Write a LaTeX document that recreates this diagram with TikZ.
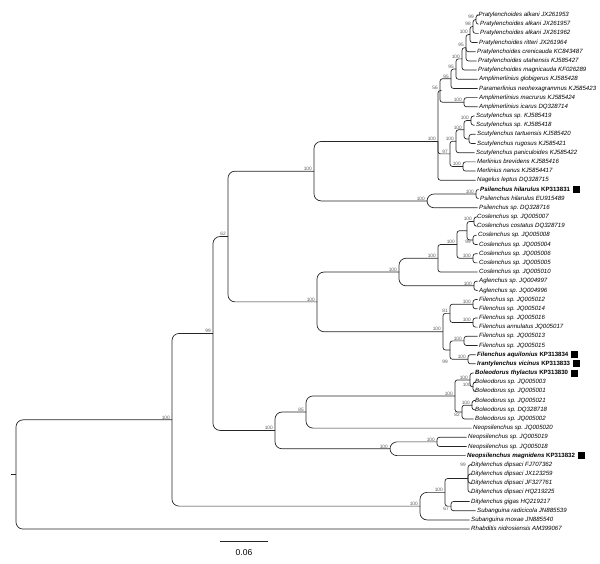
\documentclass[tikz,border=0pt]{standalone}
\usepackage{fontspec}
\setmainfont{Liberation Sans}
\usetikzlibrary{positioning}

\begin{document}
\begin{tikzpicture}[x=1pt, y=-9.18pt,
    tip/.style={anchor=west, inner sep=0pt, text height=4.4pt, text depth=1.2pt, font=\fontsize{6.1}{7}\selectfont},
    boot/.style={inner sep=0.5pt, xshift=-1.5pt, font=\fontsize{4.8}{5}\selectfont, text=black!65},
    br/.style={draw=black!85, line width=0.7pt, rounded corners=2.5pt},
    brl/.style={br, rounded corners=7pt},
    sqbox/.style={fill=black, minimum size=7pt, inner sep=0pt}]
    \useasboundingbox (0,-0.634) rectangle (600,60.695);

    % leaves: label start / name / accession / bold
    \foreach[count=\i] \lx/\gn/\acc/\hl in {
        478.5/Pratylenchoides alkani/JX261953/0, 480/Pratylenchoides alkani/JX261957/0,
        480/Pratylenchoides alkani/JX261962/0, 479/Pratylenchoides ritteri/JX261964/0,
        477/Pratylenchoides crenicauda/KC843487/0, 478/Pratylenchoides utahensis/KJ585427/0,
        478/Pratylenchoides magnicauda/KF026289/0, 479/Amplimerlinius globigerus/KJ585428/0,
        479/Paramerlinius neohexagrammus/KJ585423/0, 479/Amplimerlinius macrurus/KJ585424/0,
        479/Amplimerlinius icarus/DQ328714/0, 476/Scutylenchus sp./KJ585419/0,
        476/Scutylenchus sp./KJ585418/0, 477/Scutylenchus tartuensis/KJ585420/0,
        477/Scutylenchus rugosus/KJ585421/0, 476/Scutylenchus paniculoides/KJ585422/0,
        477/Merlinius brevidens/KJ585416/0, 477/Merlinius nanus/KJ5854417/0,
        477/Nagelus leptus/DQ328715/0, 480/Psilenchus hilarulus/KP313831/1,
        480/Psilenchus hilarulus/EU915489/0, 479/Psilenchus sp./DQ328716/0,
        477/Coslenchus sp./JQ005007/0, 477/Coslenchus costatus/DQ328719/0,
        478/Coslenchus sp./JQ005008/0, 479/Coslenchus sp./JQ005004/0,
        479/Coslenchus sp./JQ005006/0, 479/Coslenchus sp./JQ005005/0,
        479/Coslenchus sp./JQ005010/0, 479/Aglenchus sp./JQ004997/0,
        479/Aglenchus sp./JQ004996/0, 479/Filenchus sp./JQ005012/0,
        479/Filenchus sp./JQ005014/0, 479/Filenchus sp./JQ005016/0,
        479/Filenchus annulatus/JQ005017/0, 479/Filenchus sp./JQ005013/0,
        479/Filenchus sp./JQ005015/0, 477/Filenchus aquilonius/KP313834/1,
        477/Irantylenchus vicinus/KP313833/1, 475/Boleodorus thylactus/KP313830/1,
        475/Boleodorus sp./JQ005003/0, 475/Boleodorus sp./JQ005001/0,
        475/Boleodorus sp./JQ005021/0, 475/Boleodorus sp./DQ328718/0,
        475/Boleodorus sp./JQ005002/0, 473/Neopsilenchus sp./JQ005020/0,
        468/Neopsilenchus sp./JQ005019/0, 468/Neopsilenchus sp./JQ005018/0,
        467/Neopsilenchus magnidens/KP313832/1, 471/Ditylenchus dipsaci/FJ707362/0,
        471/Ditylenchus dipsaci/JX123259/0, 471/Ditylenchus dipsaci/JF327761/0,
        471/Ditylenchus dipsaci/HQ219225/0, 471/Ditylenchus gigas/HQ219217/0,
        477/Subanguina radicicola/JN885539/0, 471/Subanguina moxae/JN885540/0,
        471/Rhabditis nidrosiensis/AM399067/0} {
        \coordinate (t-\i) at (\lx-1.5,\i);
        \ifnum\hl=1
            \node[tip] (n-\i) at (\lx,\i) {\bfseries\itshape\gn\ \upshape\acc};
            \node[sqbox, right=2.5pt of n-\i] (q-\i) {};
        \else
            \node[tip] (n-\i) at (\lx,\i) {\itshape\gn\ \acc};
        \fi
    }

    % inner nodes
    \coordinate (r0) at (11,51.05);
    \coordinate (r) at (16,51.05);
    \coordinate (i) at (172,45.1);
    \coordinate (n99) at (213,35.69);
    \coordinate (n62) at (228,25.13);
    \coordinate (nt) at (314,18.01);
    \coordinate (top) at (438,14.78);
    \coordinate (c56) at (440,9.22);
    \coordinate (p7) at (451,7.945);
    \coordinate (p6) at (456,6.89);
    \coordinate (p5) at (462,5.78);
    \coordinate (p4) at (466,4.5625);
    \coordinate (p3) at (470,3.125);
    \coordinate (p2) at (473,2.25);
    \coordinate (p1) at (476,1.5);
    \coordinate (ap) at (464,10.5);
    \coordinate (c97) at (450,16.125);
    \coordinate (s3) at (456,14.75);
    \coordinate (s2) at (464,13.5);
    \coordinate (s1) at (471,12.5);
    \coordinate (s4) at (469,14.5);
    \coordinate (mer) at (463,17.5);
    \coordinate (psi) at (427,21.25);
    \coordinate (hp) at (476,20.5);
    \coordinate (nf) at (317,32.25);
    \coordinate (ca) at (399,29);
    \coordinate (co) at (438,27.5);
    \coordinate (co2) at (457,26);
    \coordinate (x) at (467,24.5);
    \coordinate (a) at (474,23.5);
    \coordinate (b) at (473,25.5);
    \coordinate (c) at (473,27.5);
    \coordinate (ag) at (474,30.5);
    \coordinate (fc) at (443,35.5);
    \coordinate (f12) at (450,33.5);
    \coordinate (f1) at (473,32.5);
    \coordinate (f2) at (473,34.5);
    \coordinate (f34) at (450,37.5);
    \coordinate (f3) at (464,36.5);
    \coordinate (f4) at (468,38.5);
    \coordinate (n100b) at (275,46.25);
    \coordinate (n85) at (306,44.25);
    \coordinate (bo) at (455,42.5);
    \coordinate (boa) at (470,40.75);
    \coordinate (bq) at (473,41.5);
    \coordinate (bob) at (462,44.25);
    \coordinate (bp) at (472,43.5);
    \coordinate (neo) at (390,48.25);
    \coordinate (np) at (437,47.5);
    \coordinate (d) at (420,54.5);
    \coordinate (d1) at (445,53);
    \coordinate (dd) at (468,51.5);
    \coordinate (dg) at (451,54.5);

    % branches
    \draw[br] (r0) -- (r);
    \foreach \p/\c in {r/i, r/t-57, i/n99, i/d, n99/n62, n99/n100b, n62/nt, n62/nf,
        nt/top, nt/psi, nf/ca, nf/fc, n100b/n85, n100b/neo, d/d1, d/t-56, ca/co, ca/ag,
        n85/bo, n85/t-46, neo/np, neo/t-49, psi/hp, psi/t-22}
        \draw[brl] (\p) |- (\c);
    \foreach \p/\c in {top/c56, top/c97, top/t-19, c56/p7, c56/ap, p7/p6, p7/t-9, p6/p5, p6/t-8,
        p5/p4, p5/t-7, p4/p3, p4/t-5, p4/t-6, p3/p2, p3/t-4, p2/p1, p2/t-3, p1/t-1, p1/t-2,
        ap/t-10, ap/t-11, c97/s3, c97/mer, s3/s2, s3/t-16, s2/s1, s2/s4, s1/t-12, s1/t-13,
        s4/t-14, s4/t-15, mer/t-17, mer/t-18, hp/t-20, hp/t-21,
        co/co2, co/t-29, co2/x, co2/c, x/a, x/b, a/t-23, a/t-24, b/t-25, b/t-26, c/t-27, c/t-28,
        ag/t-30, ag/t-31, fc/f12, fc/f34, f12/f1, f12/f2, f1/t-32, f1/t-33, f2/t-34, f2/t-35,
        f34/f3, f34/f4, f3/t-36, f3/t-37, f4/t-38, f4/t-39,
        bo/boa, bo/bob, boa/t-40, boa/bq, bq/t-41, bq/t-42, bob/bp, bob/t-45, bp/t-43, bp/t-44,
        np/t-47, np/t-48, d1/dd, d1/dg, dd/t-50, dd/t-51, dd/t-52, dd/t-53, dg/t-54, dg/t-55}
        \draw[br] (\p) |- (\c);

    % support values
    \foreach \nd/\bv in {i/100, n99/99, n62/62, nt/100, nf/100, top/100, c56/56, p7/95, p6/95,
        p5/100, p4/95, p3/100, p2/98, p1/99, ap/100, c97/97, s3/100, s2/100, s1/100, mer/100,
        psi/100, hp/100, ca/100, co/100, co2/100, a/100, c/100, ag/100, fc/100, f12/81, f1/100,
        f2/100, f3/100, f4/100, n100b/100, n85/85, bo/100, boa/100, bq/100, bp/100, neo/100,
        np/100, d/100, d1/100}
        \node[boot, anchor=south east] at (\nd) {\bv};
    \foreach \nd/\bv in {b/99, bob/82, dg/67}
        \node[boot, anchor=north east] at (\nd) {\bv};
    \node[boot, anchor=north east] at (f34 |- f4) {99};
    \node[boot, anchor=east] at (dd |- t-50) {99};

    % scale bar
    \coordinate (s-a) at (220,58.37);
    \coordinate (s-b) at (268,58.37);
    \draw[br, line width=0.9pt] (s-a) -- node[below=7pt, inner sep=0pt, font=\fontsize{8.5}{9}\selectfont] (s-l) {0.06} (s-b);
\end{tikzpicture}
\end{document}
